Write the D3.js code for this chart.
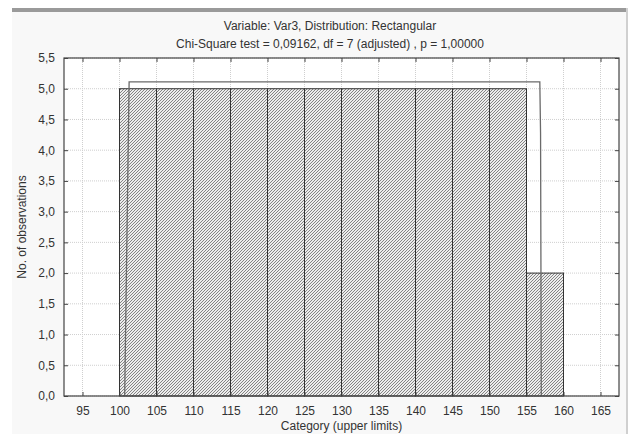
<!DOCTYPE html>
<html>
<head>
<meta charset="utf-8">
<script src="https://cdn.jsdelivr.net/npm/d3@7"></script>
<style>
  body { margin: 0; background: #fff; }
  text { font-family: "Liberation Sans", Arial, sans-serif; }
</style>
</head>
<body>
<div id="my_dataviz"></div>
<script>
// histogram bins (upper limits) and observed counts
var binUpper = [105, 110, 115, 120, 125, 130, 135, 140, 145, 150, 155, 160];
var counts = [5, 5, 5, 5, 5, 5, 5, 5, 5, 5, 5, 2];
var binWidth = 5;

// expected (rectangular) curve
var expX = [100.7, 101.3, 156.8, 156.9, 157.0];
var expY = [0, 5.11, 5.11, 4.27, 0];

// tick labels
var xTicks = [95, 100, 105, 110, 115, 120, 125, 130, 135, 140, 145, 150, 155, 160, 165];
var yTicks = [0, 0.5, 1, 1.5, 2, 2.5, 3, 3.5, 4, 4.5, 5, 5.5];

var titleLines = ["Variable: Var3, Distribution: Rectangular",
  "Chi-Square test = 0,09162, df = 7 (adjusted) , p = 1,00000"];

var W = 631, H = 434;
var plot = { left: 64, right: 619, top: 58, bottom: 396 };

var svg = d3.select("#my_dataviz")
  .append("svg")
  .attr("width", W)
  .attr("height", H);

// window frame
svg.append("rect").attr("x", 0).attr("y", 0).attr("width", W).attr("height", H).attr("fill", "#fff");
svg.append("rect").attr("x", 12).attr("y", 12).attr("width", 615).attr("height", H - 12).attr("fill", "#f8f8f8");
svg.append("rect").attr("x", 12).attr("y", 8).attr("width", 616).attr("height", 4).attr("fill", "#9a9a9a");
svg.append("rect").attr("x", 626).attr("y", 8).attr("width", 2).attr("height", H).attr("fill", "#d0d0d0");

// hatch pattern
var defs = svg.append("defs");
defs.append("pattern")
  .attr("id", "hatch")
  .attr("patternUnits", "userSpaceOnUse")
  .attr("width", 3).attr("height", 3)
  .call(function (p) {
    p.append("rect").attr("width", 3).attr("height", 3).attr("fill", "#ededed");
    p.append("path").attr("d", "M-1,1 l2,-2 M0,3 l3,-3 M2,4 l2,-2")
      .attr("stroke", "#6a6a6a").attr("stroke-width", 0.8);
  });

var x = d3.scaleLinear().domain([92.5, 167.5]).range([plot.left, plot.right]);
var y = d3.scaleLinear().domain([0, 5.5]).range([plot.bottom, plot.top]);

// plot background
svg.append("rect")
  .attr("x", plot.left).attr("y", plot.top)
  .attr("width", plot.right - plot.left).attr("height", plot.bottom - plot.top)
  .attr("fill", "#fff");

// grid
svg.append("g").selectAll("line")
  .data(xTicks).enter().append("line")
  .attr("x1", function (d) { return x(d); }).attr("x2", function (d) { return x(d); })
  .attr("y1", plot.top).attr("y2", plot.bottom)
  .attr("stroke", "#cfcfcf").attr("stroke-dasharray", "1,1");
svg.append("g").selectAll("line")
  .data(yTicks).enter().append("line")
  .attr("x1", plot.left).attr("x2", plot.right)
  .attr("y1", function (d) { return y(d); }).attr("y2", function (d) { return y(d); })
  .attr("stroke", "#cfcfcf").attr("stroke-dasharray", "1,1");

// bars
svg.append("g").selectAll("rect")
  .data(binUpper).enter().append("rect")
  .attr("x", function (d) { return x(d - binWidth); })
  .attr("width", function (d) { return x(d) - x(d - binWidth); })
  .attr("y", function (d, i) { return y(counts[i]); })
  .attr("height", function (d, i) { return y(0) - y(counts[i]); })
  .attr("fill", "url(#hatch)")
  .attr("stroke", "#333")
  .attr("stroke-width", 1);

// expected curve
var line = d3.line()
  .x(function (d) { return x(d[0]); })
  .y(function (d) { return y(d[1]); });
svg.append("path")
  .datum(d3.zip(expX, expY))
  .attr("d", line)
  .attr("fill", "none")
  .attr("stroke", "#6a6a6a")
  .attr("stroke-width", 1.3);

// axes with inside ticks on all four sides
var fmt = function (d) { return d3.format(".1f")(d).replace(".", ","); };
svg.append("g")
  .attr("transform", "translate(0," + plot.bottom + ")")
  .call(d3.axisBottom(x).tickValues(xTicks).tickSizeInner(-4).tickSizeOuter(0).tickPadding(10))
  .call(function (g) { g.select(".domain").remove(); });
svg.append("g")
  .attr("transform", "translate(" + plot.left + ",0)")
  .call(d3.axisLeft(y).tickValues(yTicks).tickFormat(fmt).tickSizeInner(-4).tickSizeOuter(0).tickPadding(9))
  .call(function (g) { g.select(".domain").remove(); });
svg.append("g")
  .attr("transform", "translate(0," + plot.top + ")")
  .call(d3.axisTop(x).tickValues(xTicks).tickSizeInner(-4).tickSizeOuter(0).tickFormat(""))
  .call(function (g) { g.select(".domain").remove(); });
svg.append("g")
  .attr("transform", "translate(" + plot.right + ",0)")
  .call(d3.axisRight(y).tickValues(yTicks).tickSizeInner(-4).tickSizeOuter(0).tickFormat(""))
  .call(function (g) { g.select(".domain").remove(); });

svg.selectAll(".tick line").attr("stroke", "#444");
svg.selectAll(".tick text").attr("font-size", 12).attr("fill", "#333")
  .style("font-family", "'Liberation Sans', Arial, sans-serif");

// frame
svg.append("rect")
  .attr("x", plot.left).attr("y", plot.top)
  .attr("width", plot.right - plot.left).attr("height", plot.bottom - plot.top)
  .attr("fill", "none").attr("stroke", "#444").attr("stroke-width", 1.2);

// titles
svg.selectAll("text.title")
  .data(titleLines).enter().append("text")
  .attr("class", "title")
  .attr("x", 330)
  .attr("y", function (d, i) { return 30 + i * 18; })
  .attr("text-anchor", "middle")
  .attr("font-size", 12)
  .attr("fill", "#333")
  .text(function (d) { return d; });

svg.append("text")
  .attr("x", (plot.left + plot.right) / 2)
  .attr("y", 430)
  .attr("text-anchor", "middle")
  .attr("font-size", 12)
  .attr("fill", "#333")
  .text("Category (upper limits)");

svg.append("text")
  .attr("transform", "translate(26," + (plot.top + plot.bottom) / 2 + ") rotate(-90)")
  .attr("text-anchor", "middle")
  .attr("font-size", 12)
  .attr("fill", "#333")
  .text("No. of observations");
</script>
</body>
</html>
